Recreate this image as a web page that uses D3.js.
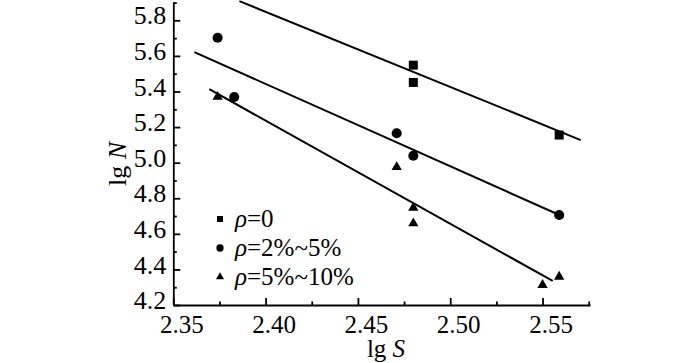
<!DOCTYPE html>
<html>
<head>
<meta charset="utf-8">
<script src="https://cdn.jsdelivr.net/npm/d3@7"></script>
<style>
  body { margin: 0; background: #fff; }
  svg text { font-family: "Liberation Serif", "Times New Roman", Times, serif; fill: #000; }
</style>
</head>
<body>
<div id="chart"></div>
<script>
// data
var sSquare = [2.480, 2.480, 2.559];
var nSquare = [5.548, 5.451, 5.155];
var sCircle = [2.374, 2.383, 2.471, 2.480, 2.559];
var nCircle = [5.702, 5.369, 5.165, 5.039, 4.706];
var sTriangle = [2.374, 2.471, 2.480, 2.480, 2.550, 2.559];
var nTriangle = [5.370, 4.975, 4.747, 4.659, 4.312, 4.359];

// fitted lines (start / end in data units)
var fitS = [[2.3858, 2.5707], [2.3614, 2.5613], [2.3695, 2.5555]];
var fitN = [[5.908, 5.127], [5.621, 4.696], [5.413, 4.335]];

var legendLabels = ["=0", "=2%~5%", "=5%~10%"];
var xTicks = [2.35, 2.40, 2.45, 2.50, 2.55];
var yTicks = [4.2, 4.4, 4.6, 4.8, 5.0, 5.2, 5.4, 5.6, 5.8];

var width = 700, height = 363;
var serif = "'Liberation Serif', 'Times New Roman', Times, serif";

var svg = d3.select("#chart")
  .append("svg")
    .attr("width", width)
    .attr("height", height);

var x = d3.scaleLinear()
  .domain([2.35, 2.5757])
  .range([173.3, 590]);

var y = d3.scaleLinear()
  .domain([4.2, 5.903])
  .range([305, 2]);

// minor ticks
svg.append("g")
  .attr("transform", "translate(0,305)")
  .call(d3.axisBottom(x).tickValues(d3.range(2.375, 2.576, 0.05)).tickSize(-3.5).tickFormat(""))
  .call(g => g.select(".domain").remove());
svg.append("g")
  .attr("transform", "translate(173.3,0)")
  .call(d3.axisLeft(y).tickValues(d3.range(4.3, 5.9, 0.2)).tickSize(-3.5).tickFormat(""))
  .call(g => g.select(".domain").remove());

// X axis
var xAxis = svg.append("g")
  .attr("transform", "translate(0,305)")
  .call(d3.axisBottom(x).tickValues(xTicks).tickSize(-7).tickSizeOuter(0)
    .tickPadding(10).tickFormat(d3.format(".2f")));

// Y axis
var yAxis = svg.append("g")
  .attr("transform", "translate(173.3,0)")
  .call(d3.axisLeft(y).tickValues(yTicks).tickSize(-7).tickSizeOuter(0)
    .tickPadding(7).tickFormat(d3.format(".1f")));

svg.selectAll("g").attr("font-family", serif);

svg.selectAll(".tick line, .domain")
  .attr("stroke", "#000")
  .attr("stroke-width", 1.8);

xAxis.selectAll("text")
  .attr("dx", 8)
  .attr("font-size", 25);
yAxis.selectAll("text")
  .attr("dy", "0.14em")
  .attr("font-size", 26);

// axis titles
var xTitle = svg.append("text")
  .attr("x", 386)
  .attr("y", 357)
  .attr("text-anchor", "middle")
  .style("font-size", "25px");
xTitle.append("tspan").text("lg ");
xTitle.append("tspan").style("font-style", "italic").text("S");

var yTitle = svg.append("text")
  .attr("transform", "translate(126,164) rotate(-90)")
  .attr("text-anchor", "middle")
  .style("font-size", "26px");
yTitle.append("tspan").text("lg ");
yTitle.append("tspan").style("font-style", "italic").text("N");

// fitted lines
svg.append("g")
  .selectAll("line")
  .data(d3.range(fitS.length))
  .enter()
  .append("line")
    .attr("x1", function (i) { return x(fitS[i][0]); })
    .attr("y1", function (i) { return y(fitN[i][0]); })
    .attr("x2", function (i) { return x(fitS[i][1]); })
    .attr("y2", function (i) { return y(fitN[i][1]); })
    .attr("stroke", "#000")
    .attr("stroke-width", 2);

// points
var series = [
  {s: sSquare, n: nSquare, type: d3.symbolSquare, size: 81},
  {s: sCircle, n: nCircle, type: d3.symbolCircle, size: 80},
  {s: sTriangle, n: nTriangle, type: d3.symbolTriangle, size: 46}
];

series.forEach(function (ser) {
  svg.append("g")
    .selectAll("path")
    .data(ser.s)
    .enter()
    .append("path")
      .attr("transform", function (d, i) { return "translate(" + x(d) + "," + y(ser.n[i]) + ")"; })
      .attr("d", d3.symbol().type(ser.type).size(ser.size))
      .attr("fill", "#000");
});

// legend
var legendSymbols = [
  {type: d3.symbolSquare, size: 36},
  {type: d3.symbolCircle, size: 42},
  {type: d3.symbolTriangle, size: 28}
];

var legend = svg.append("g");
legendLabels.forEach(function (lab, i) {
  var cy = 219 + i * 29;
  legend.append("path")
    .attr("transform", "translate(220," + cy + ")")
    .attr("d", d3.symbol().type(legendSymbols[i].type).size(legendSymbols[i].size))
    .attr("fill", "#000");
  var t = legend.append("text")
    .attr("x", 235)
    .attr("y", cy + 7.5)
    .style("font-size", "25px");
  t.append("tspan").style("font-style", "italic").text("\u03c1");
  t.append("tspan").text(lab);
});
</script>
</body>
</html>
